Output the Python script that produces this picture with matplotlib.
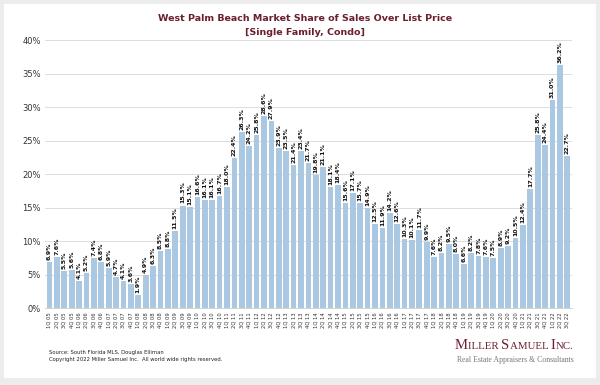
import matplotlib
matplotlib.use("Agg")
import matplotlib.pyplot as plt
from matplotlib.patches import Rectangle

# quarters 1Q 05 .. 3Q 22
quarters = [f"{q}Q {y:02d}" for y in range(5, 23) for q in range(1, 5)][:71]
share = [6.9, 7.6, 5.5, 5.6, 4.1, 5.2, 7.4, 6.8, 5.9, 4.7, 4.1, 3.6,
         1.9, 4.9, 6.3, 8.5, 8.8, 11.5, 15.3, 15.1, 16.6, 16.1, 16.1, 16.7,
         18.0, 22.4, 26.3, 24.2, 25.8, 28.6, 27.9, 23.9, 23.5, 21.4, 23.4, 21.7,
         19.8, 21.1, 18.1, 18.4, 15.6, 17.1, 15.7, 14.9, 12.5, 11.9, 14.2, 12.6,
         10.3, 10.1, 11.7, 9.9, 7.6, 8.2, 9.5, 8.0, 6.6, 8.2, 7.8, 7.6,
         7.5, 8.9, 9.2, 10.5, 12.4, 17.7, 25.8, 24.4, 31.0, 36.2, 22.7]
yticks = [0, 5, 10, 15, 20, 25, 30, 35, 40]

title_color = "#6b1f2e"
bar_color = "#abc8e2"

fig = plt.figure(figsize=(6, 3.85), dpi=100, facecolor="#ececec")
# white panel behind everything
fig.patches.append(Rectangle((4 / 600, 7 / 385), 592 / 600, 374 / 385,
                             transform=fig.transFigure, facecolor="white",
                             edgecolor="none", zorder=-10))

ax = fig.add_axes([0.075, 0.2, 0.878, 0.696])
ax.set_zorder(1)
ax.set_facecolor("none")
x = range(len(share))
bars = ax.bar(x, share, width=0.78, color=bar_color, zorder=2)

for i, v in enumerate(share):
    ax.text(i, v + 0.3, f"{v:.1f}%", rotation=90, ha="center", va="bottom",
            fontsize=4.5, fontweight="bold", color="#111111", zorder=3)

ax.set_xlim(-0.6, len(share) - 0.4)
ax.set_ylim(0, 40)
ax.set_yticks(yticks)
ax.set_yticklabels([f"{t}%" for t in yticks], fontsize=6, color="#333333")
ax.set_xticks(list(x))
ax.set_xticklabels(quarters, rotation=90, fontsize=3.8, color="#333333")
ax.tick_params(axis="both", length=0, pad=3)
ax.grid(axis="y", color="#dddddd", linewidth=0.7, zorder=0)
ax.set_axisbelow(True)
for s in ["top", "right", "left"]:
    ax.spines[s].set_visible(False)
ax.spines["bottom"].set_color("#cccccc")
ax.spines["bottom"].set_linewidth(0.6)

fig.text(0.508, 0.953, "West Palm Beach Market Share of Sales Over List Price",
         ha="center", va="center", fontsize=6.8, fontweight="bold", color=title_color)
fig.text(0.508, 0.915, "[Single Family, Condo]",
         ha="center", va="center", fontsize=6.8, fontweight="bold", color=title_color)

fig.text(0.081, 0.085, "Source: South Florida MLS, Douglas Elliman",
         fontsize=3.8, color="#222222", va="center")
fig.text(0.081, 0.066, "Copyright 2022 Miller Samuel Inc.  All world wide rights reserved.",
         fontsize=3.8, color="#222222", va="center")

# logo in small caps, built piece by piece
renderer = fig.canvas.get_renderer()
pieces = [("M", 10.5), ("ILLER ", 7.8), ("S", 10.5), ("AMUEL ", 7.8), ("I", 10.5), ("NC.", 7.8)]
xpos = 455
for txt, size in pieces:
    t = fig.text(xpos / 600, 0.093, txt, ha="left", va="baseline",
                 fontsize=size, family="Liberation Serif", color=title_color)
    xpos += t.get_window_extent(renderer).width
fig.text(457 / 600, 0.065, "Real Estate Appraisers & Consultants", ha="left", va="center",
         fontsize=5.6, family="Liberation Serif", color="#777777")

fig.savefig("out.png", dpi=100, facecolor=fig.get_facecolor())
